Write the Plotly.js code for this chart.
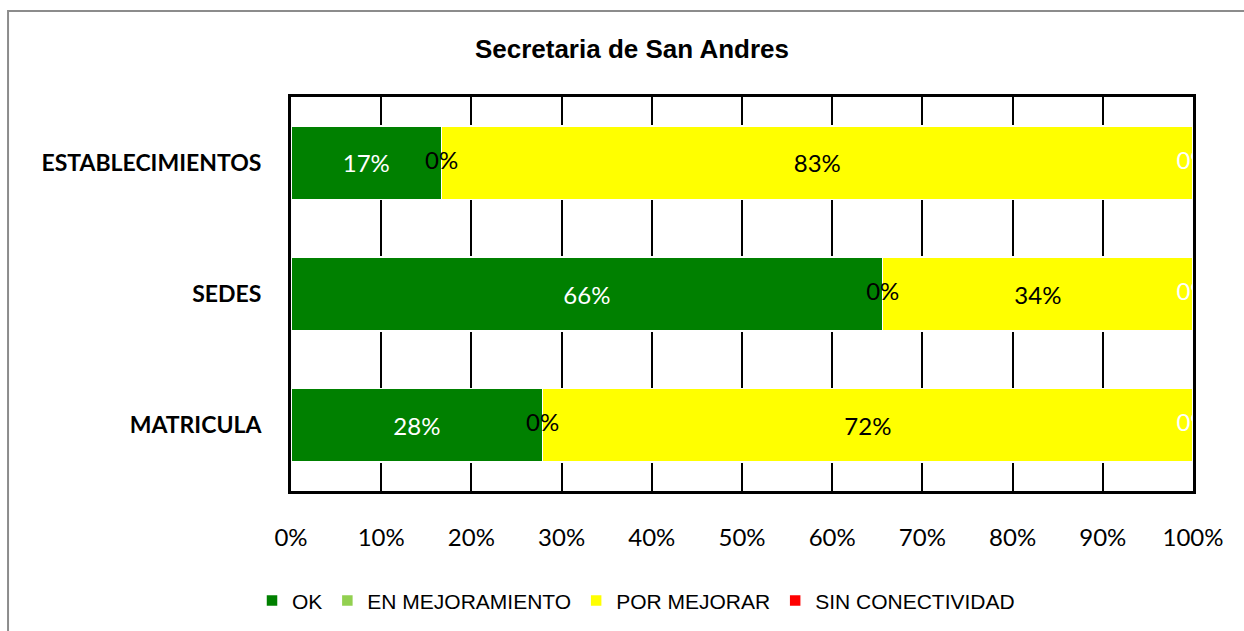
<!DOCTYPE html>
<html>
<head>
<meta charset="utf-8">
<script src="https://cdn.plot.ly/plotly-3.0.1.min.js"></script>
<style>html,body{margin:0;padding:0;background:#fff;}#chart{width:1244px;height:631px;}</style>
</head>
<body>
<div id="chart"></div>
<script>
const categories = ['ESTABLECIMIENTOS', 'SEDES', 'MATRICULA'];
const seriesNames = ['OK', 'EN MEJORAMIENTO', 'POR MEJORAR', 'SIN CONECTIVIDAD'];
const okValues = [0.167, 0.656, 0.279];
const enMejoramientoValues = [0, 0, 0];
const porMejorarValues = [0.833, 0.344, 0.721];
const sinConectividadValues = [0, 0, 0];
const seriesColors = ['#008000', '#92D050', '#FFFF00', '#FF0000'];
const xTickValues = [0, 0.1, 0.2, 0.3, 0.4, 0.5, 0.6, 0.7, 0.8, 0.9, 1.0];

const labelFont = 'Lato, "Open Sans", sans-serif';
const fmt = v => Math.round(v * 100) + '%';

function barTrace(name, vals, color, textColor, showText) {
  return {
    type: 'bar', orientation: 'h', name: name,
    y: categories, x: vals,
    marker: {color: color, line: {color: '#ffffff', width: 1.5}},
    text: showText ? vals.map(fmt) : vals.map(() => ''),
    textposition: 'inside', insidetextanchor: 'middle', textangle: 0,
    insidetextfont: {family: labelFont, size: 24, color: textColor},
    constraintext: 'none',
    hoverinfo: 'x+y+name'
  };
}

const cumOK = okValues.slice();
const cumEN = okValues.map((v, i) => v + enMejoramientoValues[i]);
const cumPOR = cumEN.map((v, i) => v + porMejorarValues[i]);
const cumSIN = cumPOR.map((v, i) => v + sinConectividadValues[i]);

const traces = [
  barTrace(seriesNames[0], okValues, seriesColors[0], '#ffffff', true),
  barTrace(seriesNames[1], enMejoramientoValues, seriesColors[1], '#000000', false),
  barTrace(seriesNames[2], porMejorarValues, seriesColors[2], '#000000', true),
  barTrace(seriesNames[3], sinConectividadValues, seriesColors[3], '#ffffff', false),
  {
    type: 'scatter', mode: 'text', showlegend: false, hoverinfo: 'skip',
    y: categories, x: cumEN.map((v, i) => cumOK[i] + enMejoramientoValues[i] / 2),
    text: enMejoramientoValues.map(fmt),
    textposition: 'middle center',
    textfont: {family: labelFont, size: 24, color: '#000000'},
    cliponaxis: true
  },
  {
    type: 'scatter', mode: 'text', showlegend: false, hoverinfo: 'skip',
    y: categories, x: cumSIN.map((v, i) => cumPOR[i] + sinConectividadValues[i] / 2),
    text: sinConectividadValues.map(fmt),
    textposition: 'middle center',
    textfont: {family: labelFont, size: 24, color: '#ffffff'},
    cliponaxis: true
  }
];

const layout = {
  width: 1244, height: 631,
  autosize: false,
  margin: {l: 291, r: 51, t: 97, b: 140, autoexpand: false},
  paper_bgcolor: '#ffffff', plot_bgcolor: '#ffffff',
  barmode: 'stack', bargap: 0.44,
  showlegend: true,
  title: {
    text: 'Secretaria de San Andres',
    font: {family: '"Liberation Sans", Arial, sans-serif', size: 26, color: '#000000', weight: 'bold'},
    x: 0.508, xref: 'container', xanchor: 'center',
    y: 0.922, yref: 'container', yanchor: 'middle'
  },
  xaxis: {
    range: [0, 1], tickvals: xTickValues, tickformat: '.0%',
    showgrid: true, gridcolor: '#000000', gridwidth: 2,
    zeroline: false,
    showline: true, mirror: true, linecolor: '#000000', linewidth: 3,
    ticks: '', ticklabelstandoff: 23, tickangle: 0,
    tickfont: {family: labelFont, size: 24, color: '#000000'},
    automargin: false,
    fixedrange: true
  },
  yaxis: {
    type: 'category', categoryorder: 'array', categoryarray: categories,
    autorange: 'reversed',
    showgrid: false, zeroline: false,
    showline: true, mirror: true, linecolor: '#000000', linewidth: 3,
    ticks: '', ticklabelstandoff: 22,
    tickfont: {family: labelFont, size: 23, color: '#000000', weight: 'bold'},
    automargin: false,
    fixedrange: true
  },
  legend: {
    orientation: 'h', xref: 'paper', x: 0.3825, xanchor: 'center',
    yref: 'paper', y: -0.279, yanchor: 'middle',
    font: {family: '"Liberation Sans", Arial, sans-serif', size: 21, color: '#000000'},
    itemclick: false, itemdoubleclick: false, traceorder: 'normal'
  },
  shapes: [{
    type: 'rect', xref: 'paper', yref: 'paper',
    x0: -0.3137, x1: 1.2, y0: -0.6, y1: 1.218,
    line: {color: '#8c8c8c', width: 2}, fillcolor: 'rgba(0,0,0,0)', layer: 'below'
  }]
};

Plotly.newPlot('chart', traces, layout, {displayModeBar: false, staticPlot: true});
</script>
</body>
</html>
